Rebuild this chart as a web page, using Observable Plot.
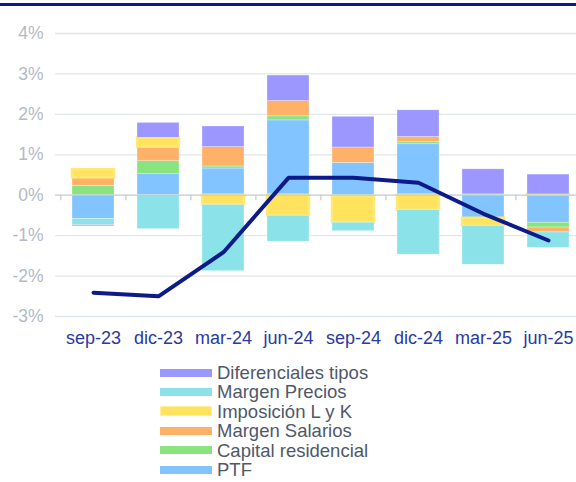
<!DOCTYPE html>
<html>
<head>
<meta charset="utf-8">
<script src="https://cdn.jsdelivr.net/npm/d3@7"></script>
<script src="https://cdn.jsdelivr.net/npm/@observablehq/plot@0.6"></script>
<style>
  body { margin: 0; background: #fff; font-family: "Liberation Sans", Arial, sans-serif; }
  #wrap { position: relative; width: 576px; height: 482px; overflow: hidden; }
  #topline { position: absolute; left: 0; top: 3px; width: 576px; height: 3px; background: #0b1a94; }
  #legend { position: absolute; left: 160px; top: 363px; }
  .row { display: flex; align-items: center; height: 19.4px; }
  .sw { width: 52px; height: 8px; margin-right: 5px; box-sizing: border-box; }
  .lab { font-size: 18.5px; color: #4f5869; line-height: 19.4px; }
</style>
</head>
<body>
<div id="wrap">
  <div id="chart"></div>
  <div id="topline"></div>
  <div id="legend"></div>
</div>
<script>
const categories = ["sep-23", "dic-23", "mar-24", "jun-24", "sep-24", "dic-24", "mar-25", "jun-25"];
const seriesNames = ["PTF", "Capital residencial", "Margen Salarios", "Imposición L y K", "Margen Precios", "Diferenciales tipos"];
const seriesColors = ["#82c4ff", "#89e37f", "#ffb168", "#ffe35e", "#8be3e9", "#9b97ff"];
const ptf        = [-0.59, 0.52, 0.66, 1.85, 0.80, 1.26, -0.57, -0.68];
const capital    = [ 0.23, 0.32, 0.05, 0.10, -0.03, 0.05, 0.02, -0.12];
const salarios   = [ 0.20, 0.35, 0.48, 0.38, 0.38, 0.13, 0.00, -0.12];
const imposicion = [ 0.20, 0.23, -0.24, -0.51, -0.65, -0.37, -0.19, 0.02];
const precios    = [-0.15, -0.84, -1.64, -0.64, -0.21, -1.10, -0.96, -0.38];
const diferenc   = [-0.03, 0.37, 0.51, 0.63, 0.76, 0.66, 0.62, 0.49];
const total      = [-2.41, -2.50, -1.41, 0.43, 0.43, 0.31, -0.46, -1.12];
const yTicks = [-3, -2, -1, 0, 1, 2, 3, 4];
const legendOrder = ["Diferenciales tipos", "Margen Precios", "Imposición L y K", "Margen Salarios", "Capital residencial", "PTF"];

const seriesValues = [ptf, capital, salarios, imposicion, precios, diferenc];
const rows = [];
seriesNames.forEach((s, i) => categories.forEach((c, j) => rows.push({cat: c, series: s, value: seriesValues[i][j]})));
const lineRows = categories.map((c, j) => ({cat: c, value: total[j]}));
const colorOf = Object.fromEntries(seriesNames.map((s, i) => [s, seriesColors[i]]));

const chart = Plot.plot({
  width: 576,
  height: 355,
  marginTop: 33,
  marginBottom: 39,
  marginLeft: 55,
  marginRight: 0,
  style: {fontFamily: "Liberation Sans, Arial, sans-serif", background: "transparent"},
  x: {domain: categories, range: [60, 581], paddingInner: 0.35, paddingOuter: 0.175, label: null},
  y: {domain: [-3, 4], label: null},
  color: {domain: seriesNames, range: seriesColors},
  marks: [
    Plot.ruleY(yTicks.filter(d => d !== 0), {stroke: "#e1e6ec", strokeWidth: 1.3}),
    Plot.barY(rows, Plot.stackY({order: seriesNames}, {
      x: "cat", y: "value", fill: "series",
      stroke: d => d.series === "Imposición L y K" ? "#ffe976" : "#ffffff",
      strokeWidth: d => d.series === "Imposición L y K" ? 2.5 : 0.6,
      strokeOpacity: d => d.series === "Imposición L y K" ? 1 : 0.5
    })),
    Plot.ruleY([0], {stroke: "#c4c9cf", strokeWidth: 1.3}),
    Plot.ruleX(categories, {x: d => d, y1: 0, y2: -0.14, stroke: "#c4c9cf", strokeWidth: 1.2, dx: -32.6}),
    Plot.lineY(lineRows, {x: "cat", y: "value", stroke: "#0c1a8a", strokeWidth: 4, strokeLinejoin: "miter", strokeLinecap: "round"}),
    Plot.axisY(yTicks, {tickSize: 0, tickPadding: 12, tickFormat: d => d + "%", fontSize: 17.5, fill: "#b3bac6"}),
    Plot.axisX({tickSize: 0, tickPadding: 15, fontSize: 18, fill: "#2a3a9e"})
  ]
});
document.getElementById("chart").appendChild(chart);

const legend = document.getElementById("legend");
legendOrder.forEach(s => {
  const row = document.createElement("div");
  row.className = "row";
  const sw = document.createElement("div");
  sw.className = "sw";
  sw.style.background = colorOf[s];
  if (s === "Imposición L y K") { sw.style.height = "10px"; sw.style.border = "1px solid #fff0a0"; }
  const lab = document.createElement("span");
  lab.className = "lab";
  lab.textContent = s;
  row.appendChild(sw);
  row.appendChild(lab);
  legend.appendChild(row);
});
</script>
</body>
</html>
